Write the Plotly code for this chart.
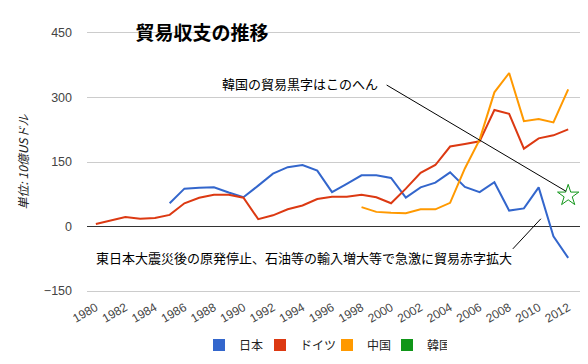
import plotly.graph_objects as go

years = list(range(1980, 2013))

japan_years = list(range(1985, 2013))
japan_values = [54, 88, 90, 91, 79, 68, 95, 123, 138, 143, 130, 80, 99, 119, 119, 113,
                67, 91, 102, 126, 92, 80, 103, 37, 42, 91, -23, -73]

germany_values = [6, 14, 22, 18, 20, 27, 54, 67, 74, 74, 67, 17, 26, 40, 49, 64, 69, 69,
                  74, 68, 54, 88, 125, 143, 186, 192, 198, 271, 262, 181, 205, 212, 226]

china_years = list(range(1998, 2013))
china_values = [45, 34, 32, 31, 40, 40, 55, 135, 202, 312, 357, 245, 250, 242, 319]

korea_years = [2012]
korea_values = [72]

x_ticks = list(range(1980, 2013, 2))
y_ticks = [-150, 0, 150, 300, 450]

names = ["日本", "ドイツ", "中国", "韓国"]
colors = ["#3366cc", "#dc3912", "#ff9900", "#109618"]
legend_widths = [16, 22, 15, 15]

JP = "Noto Sans CJK JP"
LAT = "Liberation Sans, Arial"

# the page body has an 8px margin, so the figure is 8px smaller than the window
W, H, OFF = 580, 356, 8

fig = go.Figure()
fig.add_trace(go.Scatter(x=japan_years, y=japan_values, mode="lines",
                         line=dict(color=colors[0], width=2), showlegend=False))
fig.add_trace(go.Scatter(x=years, y=germany_values, mode="lines",
                         line=dict(color=colors[1], width=2), showlegend=False))
fig.add_trace(go.Scatter(x=china_years, y=china_values, mode="lines",
                         line=dict(color=colors[2], width=2), showlegend=False))
fig.add_trace(go.Scatter(x=korea_years, y=korea_values, mode="markers",
                         marker=dict(symbol="star-open", size=16, color=colors[3],
                                     line=dict(width=1, color=colors[3])),
                         showlegend=False))
# legend entries (square swatches)
for n, c, lw in zip(names, colors, legend_widths):
    fig.add_trace(go.Scatter(x=[None], y=[None], mode="markers", name=n, legendwidth=lw,
                             marker=dict(symbol="square", size=12, color=c)))

# annotation leader lines
fig.add_shape(type="line", xref="x", yref="y", x0=1999.7, y0=329, x1=2011.85, y1=82,
              line=dict(color="black", width=1))
fig.add_shape(type="line", xref="x", yref="y", x0=2008.25, y0=-52, x1=2010.15, y1=18,
              line=dict(color="black", width=1))

fig.add_annotation(x=1993.85, y=332, xref="x", yref="y", text="韓国の貿易黒字はこのへん",
                   showarrow=False, font=dict(family=JP, size=13, color="#000"))
fig.add_annotation(x=1994.07, y=-71, xref="x", yref="y",
                   text="東日本大震災後の原発停止、石油等の輸入増大等で急激に貿易赤字拡大",
                   showarrow=False, font=dict(family=JP, size=13, color="#000"))

fig.update_layout(
    width=W, height=H,
    margin=dict(l=87 - OFF, r=8, t=33 - OFF, b=73, autoexpand=False),
    paper_bgcolor="white", plot_bgcolor="white",
    title=dict(text="<b>貿易収支の推移</b>", x=(202 - OFF) / W, xanchor="center", xref="container",
               y=1 - (33 - OFF) / H, yanchor="middle", yref="container",
               font=dict(family=JP, size=19, color="#000")),
    xaxis=dict(range=[1979.4, 2012.8], tickvals=x_ticks, tickangle=-30, showgrid=False,
               zeroline=False, showline=True, mirror=True, linecolor="#cccccc", linewidth=1,
               ticks="", automargin=False, ticklabelstandoff=4,
               tickfont=dict(family=LAT, size=12, color="#444")),
    yaxis=dict(range=[-150, 450], tickvals=y_ticks, showgrid=True, gridcolor="#cccccc",
               zeroline=True, zerolinecolor="#333333", zerolinewidth=1, ticks="",
               automargin=False, ticklabelstandoff=14, showline=False,
               tickfont=dict(family=LAT, size=12.5, color="#444"),
               title=dict(text="<i>単位: 10億USドル</i>", standoff=12,
                          font=dict(family=JP, size=12, color="#222"))),
    legend=dict(orientation="h", x=(199 - OFF) / W, xanchor="left", xref="container",
                y=1 - (345 - OFF) / H, yanchor="middle", yref="container",
                font=dict(family=JP, size=12, color="#222"), itemclick=False),
    showlegend=True,
)

fig.write_html("out.html")
